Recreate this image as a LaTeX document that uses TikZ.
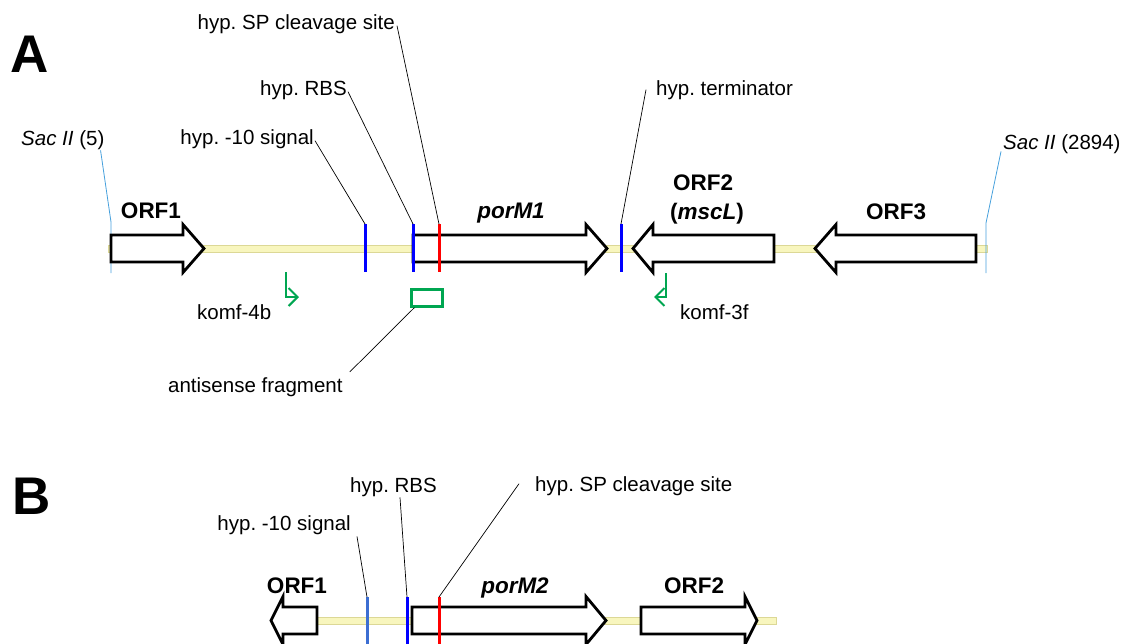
\documentclass[tikz,border=0pt]{standalone}
\usepackage{fontspec}
\setmainfont{Liberation Sans}
\usetikzlibrary{arrows.meta,calc}
\frenchspacing
\definecolor{vertamorce}{RGB}{0,166,81}
\definecolor{bleusac}{RGB}{70,160,220}
\definecolor{bleuclair}{RGB}{60,110,210}
\definecolor{squelette}{RGB}{248,246,190}
\definecolor{squelettebord}{RGB}{220,216,150}
\tikzset{
  lbl/.style={font=\fontsize{20.5}{24}\selectfont, inner sep=0pt},
  gene/.style={font=\fontsize{22.5}{26}\selectfont\bfseries, inner sep=0pt},
  panel/.style={font=\fontsize{53}{60}\selectfont\bfseries, inner sep=0pt},
  fleche/.style={draw=black, fill=white, line width=2.8pt, line join=miter},
  site/.style={line width=3pt},
  repere/.style={line width=0.7pt},
  amorce/.style={draw=vertamorce, line width=2pt,
    -{Straight Barb[length=9pt,width=18pt,line width=2pt]}}
}
% fleche vers la droite : gauche, base de la pointe, pointe, milieu
\newcommand{\orfdroite}[4]{\filldraw[fleche] (#1,#4-13.5) -- (#2,#4-13.5) -- (#2,#4-24) -- (#3,#4) -- (#2,#4+24) -- (#2,#4+13.5) -- (#1,#4+13.5) -- cycle;}
% fleche vers la gauche : pointe, base de la pointe, droite, milieu
\newcommand{\orfgauche}[4]{\filldraw[fleche] (#3,#4-13.5) -- (#2,#4-13.5) -- (#2,#4-24) -- (#1,#4) -- (#2,#4+24) -- (#2,#4+13.5) -- (#3,#4+13.5) -- cycle;}
\begin{document}
\begin{tikzpicture}[x=1pt, y=-1pt]
  \useasboundingbox (0,0) rectangle (1122,643);
  \clip (0,0) rectangle (1122,643);

  % ---------- A ----------
  \node[panel, anchor=base west] (A) at (10,72) {A};

  % squelette
  \filldraw[fill=squelette, draw=squelettebord, line width=0.8pt] (108,245) rectangle (987,252);

  % sites Sac II
  \node[lbl, anchor=base west] (sac5) at (21,145) {\textit{Sac II} (5)};
  \node[lbl, anchor=base west] (sac2894) at (1003,149) {\textit{Sac II} (2894)};
  \coordinate (sacgauche) at (111,222);
  \coordinate (sacdroite) at (986,223);
  \draw[bleusac, line width=0.8pt] ($(sac5.south east)+(-4,1)$) -- (sacgauche) -- ++(0,51);
  \draw[bleusac, line width=0.8pt] ($(sac2894.south west)+(-2,-2)$) -- (sacdroite) -- ++(0,50);

  % genes
  \orfdroite{111}{183}{204}{248.5}
  \orfdroite{413}{586}{607}{248.5}
  \orfgauche{633}{653}{774}{248.5}
  \orfgauche{815}{836}{976}{248.5}
  \node[gene, anchor=base] (orf1A) at (151,218) {ORF1};
  \node[gene, anchor=base] (porM1) at (511,218) {\textit{porM1}};
  \node[gene, anchor=base] (orf2A) at (703,190) {ORF2};
  \node[gene, anchor=base] (msclA) at (707,219) {(\textit{mscL})};
  \node[gene, anchor=base] (orf3A) at (896,219) {ORF3};

  % signaux
  \coordinate (dixA) at (365,224);
  \coordinate (rbsA) at (413,224);
  \coordinate (spA) at (439,224);
  \coordinate (termA) at (621,224);
  \draw[site, blue] (dixA) -- ++(0,48);
  \draw[site, blue] (rbsA) -- ++(0,48);
  \draw[site, red] (spA) -- ++(0,48);
  \draw[site, blue] (termA) -- ++(0,48);
  \node[lbl, anchor=base east] (sptxtA) at (395,29) {hyp. SP cleavage site};
  \node[lbl, anchor=base east] (rbstxtA) at (347,95) {hyp. RBS};
  \node[lbl, anchor=base east] (dixtxtA) at (314,144) {hyp. -10 signal};
  \node[lbl, anchor=base west] (termtxt) at (656,95) {hyp. terminator};
  \draw[repere] ($(sptxtA.east)+(2,2)$) -- (spA);
  \draw[repere] ($(rbstxtA.east)+(1,2)$) -- (rbsA);
  \draw[repere] ($(dixtxtA.east)+(1,2)$) -- (dixA);
  \draw[repere] ($(termtxt.west)+(-10,0)$) -- (termA);

  % amorces
  \draw[amorce] (286,272) -- (286,297) -- (299,297);
  \draw[amorce] (666,273) -- (666,297) -- (654,297);
  \node[lbl, anchor=base west] (k4b) at (197,319) {komf-4b};
  \node[lbl, anchor=base west] (k3f) at (680,319) {komf-3f};

  % fragment antisens
  \node[draw=vertamorce, line width=2.2pt, minimum width=31pt, minimum height=17pt, inner sep=0pt] (frag) at (427,298) {};
  \node[lbl, anchor=base west] (fragtxt) at (168,392) {antisense fragment};
  \draw[repere] ($(frag.south west)+(4,0)$) -- ($(fragtxt.north east)+(7,-5)$);

  % ---------- B ----------
  \node[panel, anchor=base west] (B) at (12,514) {B};

  \filldraw[fill=squelette, draw=squelettebord, line width=0.8pt] (271,617) rectangle (776,624);

  \orfgauche{271}{283}{317}{620.5}
  \orfdroite{412}{586}{606}{620.5}
  \orfdroite{641}{745}{757}{620.5}
  \node[gene, anchor=base] (orf1B) at (297,593) {ORF1};
  \node[gene, anchor=base] (porM2) at (515,593) {\textit{porM2}};
  \node[gene, anchor=base] (orf2B) at (694,593) {ORF2};

  \coordinate (dixB) at (367,597);
  \coordinate (rbsB) at (407,597);
  \coordinate (spB) at (439,597);
  \draw[site, bleuclair] (dixB) -- ++(0,60);
  \draw[site, blue] (rbsB) -- ++(0,60);
  \draw[site, red] (spB) -- ++(0,60);
  \node[lbl, anchor=base east] (dixtxtB) at (351,530) {hyp. -10 signal};
  \node[lbl, anchor=base east] (rbstxtB) at (437,492) {hyp. RBS};
  \node[lbl, anchor=base west] (sptxtB) at (535,491) {hyp. SP cleavage site};
  \draw[repere] ($(dixtxtB.south east)+(6,2)$) -- (dixB);
  \draw[repere] ($(rbstxtB.south east)+(-37,1)$) -- (rbsB);
  \draw[repere] ($(sptxtB.west)+(-16,-2)$) -- (spB);
\end{tikzpicture}
\end{document}
